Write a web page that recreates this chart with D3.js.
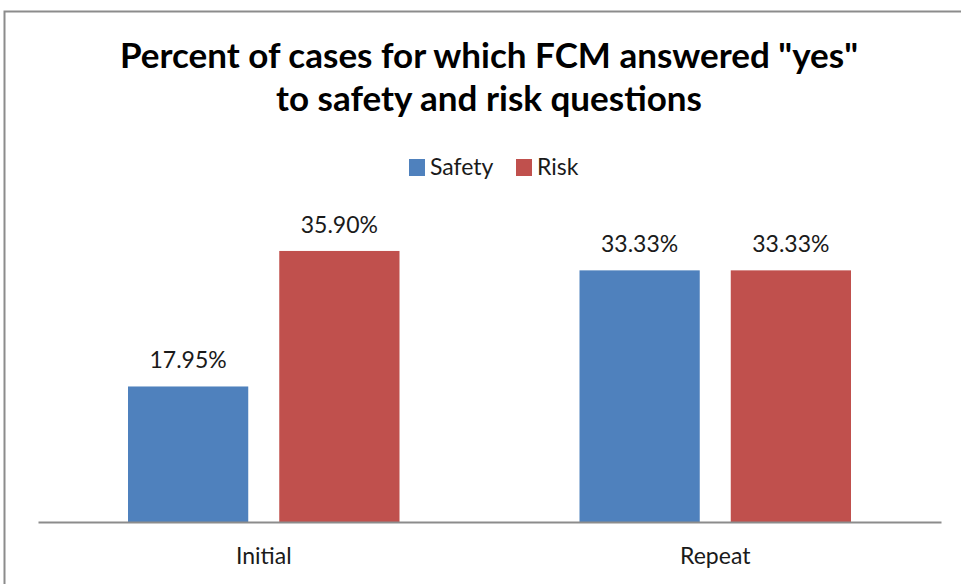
<!DOCTYPE html>
<html><head><meta charset="utf-8">
<script src="https://cdn.jsdelivr.net/npm/d3@7"></script>
<style>body{margin:0;background:#fff}svg{display:block}text{font-family:Lato,"Open Sans",sans-serif}</style>
</head><body><svg id="c" width="961" height="584"></svg>
<script>
const categories = ["Initial", "Repeat"];
const seriesNames = ["Safety", "Risk"];
const safetyValues = [17.95, 33.33];
const riskValues = [35.90, 33.33];
const colors = ["#4F81BD", "#C0504D"];
const titleLines = ['Percent of cases for which FCM answered "yes"', 'to safety and risk questions'];

const svg = d3.select("#c");
// outer frame
svg.append("path").attr("d", "M4.5,584 L4.5,11.5 L961,11.5").attr("fill","none").attr("stroke","#8c8c8c").attr("stroke-width",2);

const plot = {left: 38, right: 941, top: 220, bottom: 522};
const x0 = d3.scaleBand().domain(categories).range([plot.left, plot.right]).paddingInner(0).paddingOuter(0);
const x1 = d3.scaleBand().domain(seriesNames).range([90, x0.bandwidth() - 90]).paddingInner(0.205);
const y = d3.scaleLinear().domain([0, 40]).range([plot.bottom, plot.top]);

const data = categories.map((c, i) => ({cat: c, vals: [safetyValues[i], riskValues[i]]}));
const g = svg.append("g");
data.forEach(d => {
  d.vals.forEach((v, j) => {
    const bx = x0(d.cat) + x1(seriesNames[j]);
    g.append("rect").attr("x", bx).attr("y", y(v)).attr("width", x1.bandwidth()).attr("height", y(0) - y(v)).attr("fill", colors[j]);
    g.append("text").attr("x", bx + x1.bandwidth()/2).attr("y", y(v) - 18).attr("text-anchor","middle")
      .attr("font-size", 23).attr("fill","#1a1a1a").text(v.toFixed(2) + "%");
  });
});

// baseline axis
const xAxis = d3.axisBottom(x0).tickSize(0).tickPadding(26);
const ax = svg.append("g").attr("transform", `translate(0,${plot.bottom})`).call(xAxis);
ax.select(".domain").attr("stroke","#8c8c8c").attr("stroke-width",2);
ax.selectAll("text").attr("font-size",23).attr("fill","#1a1a1a").attr("font-family","Lato,'Open Sans',sans-serif");

// title
titleLines.forEach((t, i) => {
  svg.append("text").attr("x", 489).attr("y", 68 + i*43).attr("text-anchor","middle")
    .attr("font-size", 35).attr("font-weight","bold").attr("fill","#000").text(t);
});

// legend
const lg = svg.append("g").attr("transform","translate(409,157)");
const items = [{n:"Safety", x:0},{n:"Risk", x:107}];
items.forEach((it, j) => {
  lg.append("rect").attr("x", it.x).attr("y", 2).attr("width", 16).attr("height", 17).attr("fill", colors[j]);
  lg.append("text").attr("x", it.x + 21).attr("y", 18).attr("font-size", 23).attr("fill","#1a1a1a").text(it.n);
});
</script></body></html>
